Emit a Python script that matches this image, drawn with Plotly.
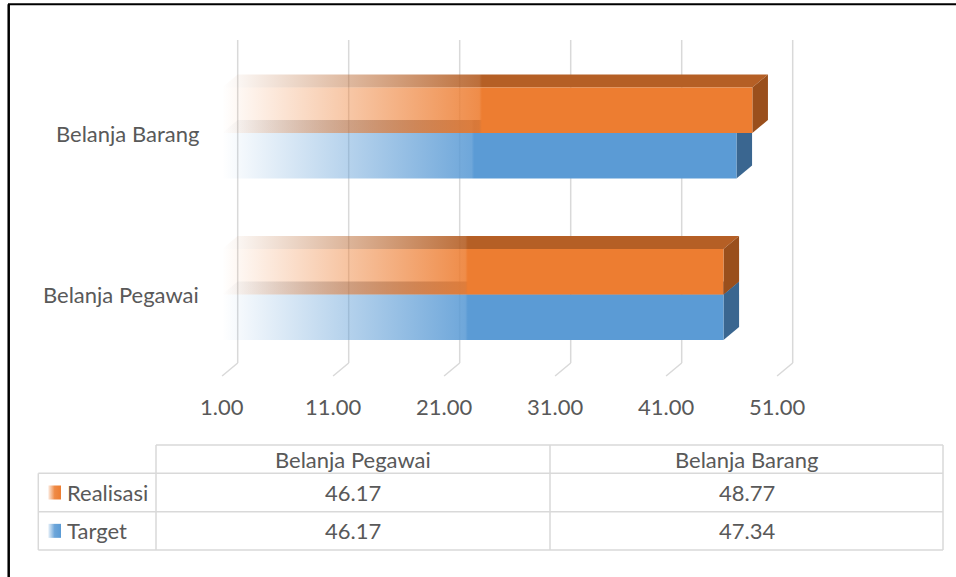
import plotly.graph_objects as go

# ---------------- data ----------------
categories = ["Belanja Pegawai", "Belanja Barang"]
series_names = ["Realisasi", "Target"]
realisasi = [46.17, 48.77]
target = [46.17, 47.34]
tick_values = [1, 11, 21, 31, 41, 51]
tick_labels = ["1.00", "11.00", "21.00", "31.00", "41.00", "51.00"]

# ---------------- geometry / style ----------------
W, H = 956, 577
X0_PX = 237.7          # pixel column of axis minimum on back wall
PX_PER_UNIT = 11.1
AXIS_MIN = tick_values[0]
CAT0_PX = 294.5        # front centre row of first category
PY_PER_UNIT = 161.5    # pixel distance between categories
BAR_H = 45.5 / PY_PER_UNIT
DX = 15.6 / PX_PER_UNIT
DY = 13.0 / PY_PER_UNIT
STEP = 0.49

FONT = "Lato"
FS = 22
TXT = "#595959"
GRID = "#D9D9D9"

ORANGE = (237, 125, 49)
ORANGE_TOP = (181, 95, 37)
ORANGE_SIDE = "#9A4F1C"
BLUE = (91, 155, 213)
BLUE_TOP = (80, 92, 112)
BLUE_SIDE = "#3A6690"


def px2x(p):
    return AXIS_MIN + (p - X0_PX) / PX_PER_UNIT


def py2y(p):
    return (CAT0_PX - p) / PY_PER_UNIT


def fx(p):
    return p / W


def fy(p):
    return 1 - p / H


def rgba(c, a):
    return f"rgba({c[0]},{c[1]},{c[2]},{a})"


def grad(c, a_end=0.88):
    return [[0, rgba(c, 0.0)], [STEP - 0.005, rgba(c, a_end)], [STEP, rgba(c, 1)], [1, rgba(c, 1)]]


fig = go.Figure()


def poly(xs, ys, fillcolor=None, gradient=None):
    kw = dict(x=xs + [xs[0]], y=ys + [ys[0]], mode="lines", fill="toself",
              line=dict(width=0, color="rgba(0,0,0,0)"), hoverinfo="skip", showlegend=False)
    if gradient is not None:
        kw["fillgradient"] = gradient
    else:
        kw["fillcolor"] = fillcolor
    fig.add_trace(go.Scatter(**kw))


def bar3d(v, yb, front_c, top_c, side_c, top_alpha=0.9):
    yt = yb + BAR_H
    x0 = AXIS_MIN - DX
    x1 = v - DX
    g_top = dict(type="horizontal", start=x0, stop=x1, colorscale=grad(top_c, top_alpha))
    g_front = dict(type="horizontal", start=x0, stop=x1, colorscale=grad(front_c))
    # top face
    poly([x0, AXIS_MIN, v, x1], [yt, yt + DY, yt + DY, yt], gradient=g_top)
    # side face
    poly([x1, x1, v, v], [yb, yt, yt + DY, yb + DY], fillcolor=side_c)
    # front face
    poly([x0, x1, x1, x0], [yb, yb, yt, yt], gradient=g_front)


# back-wall gridlines and floor lines
y_floor = py2y(363)
y_top = py2y(40)
shapes = []
for t in tick_values:
    shapes.append(dict(type="line", xref="x", yref="y", x0=t, x1=t, y0=y_floor, y1=y_top,
                       line=dict(color=GRID, width=1.5), layer="below"))
    shapes.append(dict(type="line", xref="x", yref="y", x0=t, x1=t - DX, y0=y_floor, y1=y_floor - DY,
                       line=dict(color=GRID, width=1.5), layer="below"))

# bars
for i, cat in enumerate(categories):
    yc = i
    bar3d(target[i], yc - BAR_H, BLUE, BLUE_TOP, BLUE_SIDE, top_alpha=0.8)
    bar3d(realisasi[i], yc, ORANGE, ORANGE_TOP, ORANGE_SIDE)

annotations = []
# tick labels on front floor edge
for t, lab in zip(tick_values, tick_labels):
    annotations.append(dict(x=t - DX, y=fy(406.5), xref="x", yref="paper", text=lab, showarrow=False,
                            xanchor="center", yanchor="middle", font=dict(family=FONT, size=FS, color=TXT)))
# category labels
for i, cat in enumerate(categories):
    annotations.append(dict(x=fx(200.5), y=i, xref="paper", yref="y", text=cat, showarrow=False,
                            xanchor="right", yanchor="middle", font=dict(family=FONT, size=FS, color=TXT)))

# data table
T_L, T_H, T_M, T_R = 38.3, 156.0, 550.0, 943.0
R0, R1, R2, R3 = 445.0, 473.3, 511.7, 550.0


def hline(y, x0, x1):
    shapes.append(dict(type="line", xref="paper", yref="paper", x0=fx(x0), x1=fx(x1), y0=fy(y), y1=fy(y),
                       line=dict(color=GRID, width=1.5)))


def vline(x, y0, y1):
    shapes.append(dict(type="line", xref="paper", yref="paper", x0=fx(x), x1=fx(x), y0=fy(y0), y1=fy(y1),
                       line=dict(color=GRID, width=1.5)))


hline(R0, T_H, T_R)
hline(R1, T_L, T_R)
hline(R2, T_L, T_R)
hline(R3, T_L, T_R)
vline(T_L, R1, R3)
vline(T_H, R0, R3)
vline(T_M, R0, R3)
vline(T_R, R0, R3)

col_centres = [(T_H + T_M) / 2, (T_M + T_R) / 2]
for j, cat in enumerate(categories):
    annotations.append(dict(x=fx(col_centres[j]), y=fy((R0 + R1) / 2), xref="paper", yref="paper", text=cat,
                            showarrow=False, xanchor="center", yanchor="middle",
                            font=dict(family=FONT, size=FS, color=TXT)))
rows = [(series_names[0], realisasi, (R1 + R2) / 2, ORANGE), (series_names[1], target, (R2 + R3) / 2, BLUE)]
for name, vals, yc, col in rows:
    annotations.append(dict(x=fx(65.0), y=fy(yc), xref="paper", yref="paper", text=name, showarrow=False,
                            xanchor="left", yanchor="middle", font=dict(family=FONT, size=FS, color=TXT)))
    for j, v in enumerate(vals):
        annotations.append(dict(x=fx(col_centres[j]), y=fy(yc), xref="paper", yref="paper", text=f"{v:.2f}",
                                showarrow=False, xanchor="center", yanchor="middle",
                                font=dict(family=FONT, size=FS, color=TXT)))
    # legend key
    kx0, kx1 = px2x(48.3), px2x(61.0)
    ky0, ky1 = py2y(yc + 7), py2y(yc - 7)
    poly([kx0, kx1, kx1, kx0], [ky0, ky0, ky1, ky1],
         gradient=dict(type="horizontal", colorscale=[[0, rgba(col, 0.15)], [0.5, rgba(col, 0.9)], [1, rgba(col, 1)]]))

# chart border (top and left visible)
shapes.append(dict(type="line", xref="paper", yref="paper", x0=fx(8), x1=1, y0=fy(4.2), y1=fy(4.2),
                   line=dict(color="black", width=2)))
shapes.append(dict(type="line", xref="paper", yref="paper", x0=fx(8.7), x1=fx(8.7), y0=fy(4.2), y1=0,
                   line=dict(color="black", width=2.5)))

fig.update_layout(
    width=W, height=H,
    margin=dict(l=0, r=0, t=0, b=0),
    paper_bgcolor="white", plot_bgcolor="white",
    xaxis=dict(range=[px2x(0), px2x(W)], visible=False, fixedrange=True),
    yaxis=dict(range=[py2y(H), py2y(0)], visible=False, fixedrange=True),
    shapes=shapes, annotations=annotations, showlegend=False,
)

fig.write_html(
    "out.html",
    config={"displayModeBar": False},
    post_script="document.body.style.margin='0';document.body.style.padding='0';document.body.style.overflow='hidden';",
)
